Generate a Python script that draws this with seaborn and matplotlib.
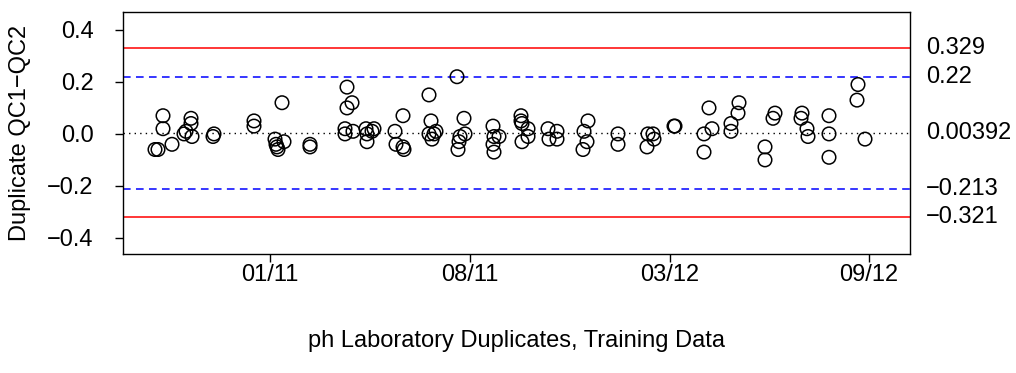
import matplotlib
matplotlib.use("Agg")
import matplotlib.pyplot as plt
import matplotlib.transforms as mtransforms
import seaborn as sns
import pandas as pd

# -------------------------------
# Data (day index, QC1 - QC2 difference)
# -------------------------------
days = [32, 35, 40, 40, 49, 61, 63, 68, 68, 69, 90, 91, 131, 131,
        152, 153, 154, 155, 161, 159, 187, 187, 224, 229, 224, 222, 222, 230,
        243, 244, 244, 249, 251, 272, 273, 280, 281, 280,
        306, 308, 306, 309, 311, 313, 334, 341, 342, 337, 336, 335,
        370, 371, 376, 370, 371, 398, 398, 399, 405, 405, 399,
        425, 426, 434, 434, 465, 461, 464, 460, 495, 495,
        524, 525, 530, 531, 551, 552, 586, 589, 581, 581,
        616, 615, 608, 608, 642, 642, 652, 650, 679, 678, 684, 685,
        706, 706, 706, 735, 734, 742]
diffs = [-0.06, -0.06, 0.07, 0.02, -0.04, 0.00, 0.01, 0.06, 0.04, -0.01, -0.01, 0.00, 0.05, 0.03,
         -0.02, -0.04, -0.05, -0.06, -0.03, 0.12, -0.04, -0.05, 0.18, 0.12, 0.10, 0.02, 0.00, 0.01,
         0.02, 0.00, -0.03, 0.01, 0.02, 0.01, -0.04, -0.05, -0.06, 0.07,
         0.15, 0.05, 0.00, -0.02, 0.00, 0.01, 0.22, 0.06, 0.00, -0.01, -0.03, -0.06,
         0.03, -0.01, -0.01, -0.04, -0.07, 0.07, 0.05, 0.04, 0.02, -0.01, -0.03,
         0.02, -0.02, 0.01, -0.02, 0.05, 0.01, -0.03, -0.06, 0.00, -0.04,
         -0.05, 0.00, 0.00, -0.02, 0.03, 0.03, 0.10, 0.02, 0.00, -0.07,
         0.12, 0.08, 0.04, 0.01, -0.05, -0.10, 0.08, 0.06, 0.08, 0.06, 0.02, -0.01,
         0.07, 0.00, -0.09, 0.19, 0.13, -0.02]

tick_days = [147, 347, 547, 746]
tick_labels = ["01/11", "08/11", "03/12", "09/12"]

center = 0.00392
warn_lo, warn_hi = -0.213, 0.22
ctrl_lo, ctrl_hi = -0.321, 0.329
limit_labels = ["0.329", "0.22", "0.00392", "\u22120.213", "\u22120.321"]

df = pd.DataFrame({"day": days, "diff": diffs})

# -------------------------------
# Plot
# -------------------------------
sns.set_style("white")
plt.rcParams["font.family"] = ["Liberation Sans", "DejaVu Sans"]
plt.rcParams["axes.unicode_minus"] = True
for key in ["text.color", "axes.labelcolor", "xtick.color", "ytick.color"]:
    plt.rcParams[key] = "black"

FS = 17

fig = plt.figure(figsize=(10.16, 3.73), dpi=100)
ax = fig.add_axes([123 / 1016, 1 - 254 / 373, 787 / 1016, 242 / 373])

sns.scatterplot(data=df, x="day", y="diff", ax=ax, marker="o", s=95,
                facecolors="none", edgecolor="black", linewidth=1.1, zorder=3)

ax.axhline(ctrl_hi, color="red", lw=1.1)
ax.axhline(ctrl_lo, color="red", lw=1.1)
ax.axhline(warn_hi, color="blue", lw=1.1, ls=(0, (5, 3.5)))
ax.axhline(warn_lo, color="blue", lw=1.1, ls=(0, (5, 3.5)))
ax.axhline(center, color="black", lw=1.0, ls=(0, (1, 3)))

ax.set_xlim(0, 787)
ax.set_ylim(-0.462, 0.469)
ax.set_xticks(tick_days)
ax.set_xticklabels(tick_labels)
ax.set_yticks([-0.4, -0.2, 0.0, 0.2, 0.4])
ax.set_yticklabels(["\u22120.4", "\u22120.2", "0.0", "0.2", "0.4"])

ax.tick_params(axis="both", direction="out", length=6, width=1, color="black",
               labelsize=FS, left=True, bottom=True)
ax.tick_params(axis="y", pad=15)
ax.tick_params(axis="x", pad=1)

for sp in ax.spines.values():
    sp.set_visible(True)
    sp.set_color("black")
    sp.set_linewidth(1.0)

ax.set_xlabel("ph Laboratory Duplicates, Training Data", fontsize=FS, va="center")
ax.xaxis.set_label_coords(0.5, (254 - 341) / 242)
ax.set_ylabel("Duplicate QC1\u2212QC2", fontsize=FS, va="center")
ax.yaxis.set_label_coords((20 - 123) / 787, 0.5)

trans = mtransforms.blended_transform_factory(ax.transAxes, ax.transData)
for val, lab in zip([ctrl_hi, warn_hi, center, warn_lo, ctrl_lo], limit_labels):
    ax.text(1 + 16 / 787, val, lab, transform=trans, ha="left", va="center", fontsize=FS)

fig.savefig("out.png", dpi=100)
